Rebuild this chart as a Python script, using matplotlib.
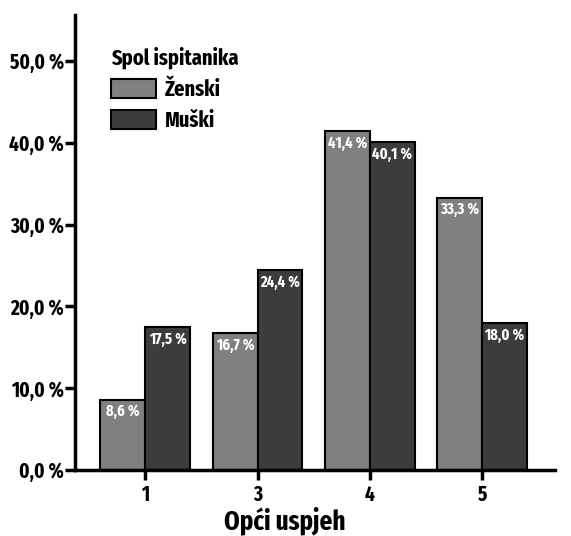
import matplotlib
matplotlib.use("Agg")
import matplotlib.pyplot as plt
from matplotlib import font_manager as fm
import numpy as np

categories = ["1", "3", "4", "5"]
zenski = [8.6, 16.7, 41.4, 33.3]
muski = [17.5, 24.4, 40.1, 18.0]
series_names = ["Ženski", "Muški"]
yticks = [0, 10, 20, 30, 40, 50]

names = {f.name for f in fm.fontManager.ttflist}
prefs = ["Fira Sans Extra Condensed", "Barlow Condensed", "Roboto Condensed",
         "PT Sans Narrow", "Fira Sans Condensed", "Archivo Narrow", "Liberation Sans Narrow"]
fam = next((p for p in prefs if p in names), "DejaVu Sans")
plt.rcParams['font.family'] = [fam, 'DejaVu Sans']
plt.rcParams['font.weight'] = 'bold'

fig = plt.figure(figsize=(5.71, 5.36), dpi=100)
ax = fig.add_axes([0.1313, 0.123, 0.841, 0.849])

x = np.arange(len(categories))
w = 0.4
b1 = ax.bar(x - w/2, zenski, w, color="#808080", edgecolor="black", linewidth=1.5, label=series_names[0])
b2 = ax.bar(x + w/2, muski, w, color="#3c3c3c", edgecolor="black", linewidth=1.5, label=series_names[1])

for bars, vals in ((b1, zenski), (b2, muski)):
    for r, v in zip(bars, vals):
        ax.annotate(f"{v:.1f} %".replace(".", ","), (r.get_x() + r.get_width()/2, v),
                    xytext=(0, -3), textcoords="offset points", ha="center", va="top",
                    color="white", fontsize=11.5, fontweight="bold")

ax.set_xlim(-0.625, 3.65)
ax.set_ylim(0, 55.6)
ax.set_xticks(x)
ax.set_xticklabels(categories)
ax.set_yticks(yticks)
ax.set_yticklabels([f"{t:.1f} %".replace(".", ",") for t in yticks])
ax.tick_params(axis="both", width=2.5, length=7, labelsize=15, color="black")
ax.tick_params(axis="x", pad=3)
ax.tick_params(axis="y", pad=1)
for s in ["top", "right"]:
    ax.spines[s].set_visible(False)
for s in ["left", "bottom"]:
    ax.spines[s].set_linewidth(2.5)
ax.set_xlabel("Opći uspjeh", fontsize=19.5, fontweight="bold")
ax.xaxis.set_label_coords(0.4375, -0.1297, transform=ax.transAxes)
ax.xaxis.label.set_va("baseline")

leg = ax.legend(title="Spol ispitanika", loc="upper left", bbox_to_anchor=(0.057, 0.95),
                frameon=False, fontsize=16, title_fontsize=16, handlelength=2.0,
                handleheight=0.9, labelspacing=0.45, handletextpad=0.4, alignment="left",
                borderaxespad=0)
for t in leg.get_texts():
    t.set_fontweight("bold")
leg.get_title().set_fontweight("bold")

fig.savefig("out.png", dpi=100)
